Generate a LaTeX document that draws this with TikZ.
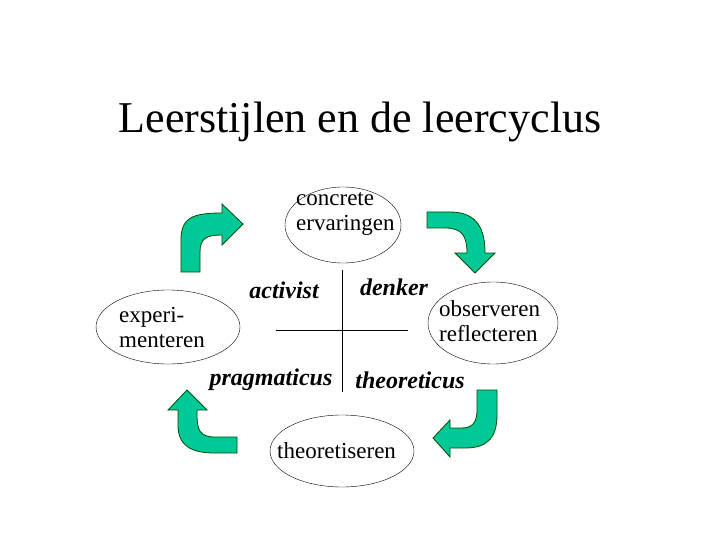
\documentclass[tikz,border=0pt]{standalone}
\usepackage{fontspec}
\setmainfont{Liberation Serif}
\begin{document}
\begin{tikzpicture}[x=1pt,y=-1pt,
  lbl/.style={font=\fontsize{23}{25}\selectfont,align=left,anchor=west,inner sep=0pt},
  typ/.style={font=\fontsize{24}{26}\selectfont\bfseries\itshape},
  garrow/.style={fill={rgb,255:red,0;green,200;blue,150},draw=black!70!green,line width=0.8pt}]
\useasboundingbox (0,0) rectangle (720,540);
\node[font=\fontsize{44}{48}\selectfont] (title) at (360,122) {Leerstijlen en de leercyclus};
\draw (343,225) ellipse (58 and 38);
\node[lbl] (ce) at (296,214) {concrete\\ervaringen};
\draw (168,327) ellipse (72 and 37);
\node[lbl] (ex) at (119,327) {experi-\\menteren};
\draw (493,323) ellipse (65 and 41);
\node[lbl] (ob) at (439,321) {observeren\\reflecteren};
\draw (342,451) ellipse (72 and 36);
\node[lbl] (th) at (277,451) {theoretiseren};
\coordinate (vt) at (342,270); \coordinate (vb) at (342,392);
\coordinate (hl) at (276,330); \coordinate (hr) at (408,330);
\draw (vt) -- (vb); \draw (hl) -- (hr);
\node[typ] (a) at (284,290) {activist};
\node[typ] (d) at (394,287) {denker};
\node[typ] (p) at (271,380) {pragmaticus};
\node[typ] (t) at (410,380) {theoreticus};
\draw[garrow] (181,272) -- (181,240) .. controls (181,218) and (192,213) .. (222,213) -- (222,204) -- (243,224) -- (222,245) -- (222,235) .. controls (207,235) and (200,238) .. (200,252) -- (200,272) -- cycle;
\draw[garrow] (427,212) -- (450,212) .. controls (478,212) and (485,230) .. (485,253) -- (495,253) -- (475,273) -- (455,253) -- (467,253) .. controls (467,236) and (462,228) .. (445,228) -- (427,228) -- cycle;
\draw[garrow] (477,390) -- (497,390) -- (497,415) .. controls (497,440) and (485,448) .. (465,448) -- (450,448) -- (450,457) -- (433,438) -- (450,420) -- (450,428) -- (462,428) .. controls (474,428) and (477,420) .. (477,410) -- cycle;
\draw[garrow] (237,437) -- (215,437) .. controls (200,437) and (197,430) .. (197,415) -- (197,410) -- (207,410) -- (187,390) -- (168,410) -- (178,410) -- (178,425) .. controls (178,445) and (190,453) .. (215,453) -- (237,453) -- cycle;
\end{tikzpicture}
\end{document}
